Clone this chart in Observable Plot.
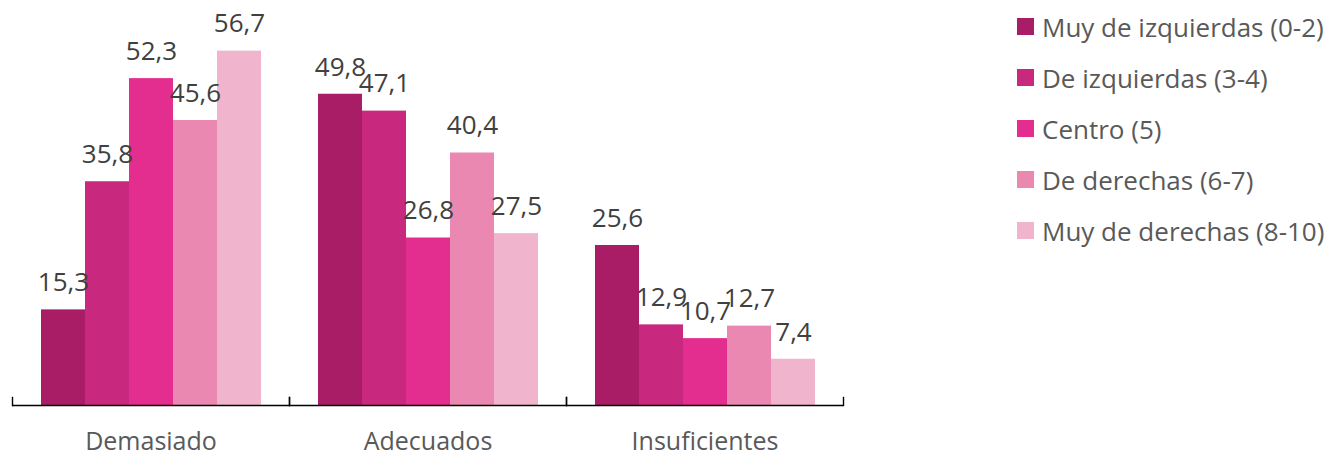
<!DOCTYPE html>
<html>
<head>
<meta charset="utf-8">
<script src="https://cdn.jsdelivr.net/npm/d3@7"></script>
<script src="https://cdn.jsdelivr.net/npm/@observablehq/plot@0.6"></script>
<style>
  html, body { margin: 0; padding: 0; background: #fff; }
  #wrap { position: relative; width: 1327px; height: 457px; font-family: "Open Sans", sans-serif; }
  #legend { position: absolute; left: 1017px; top: 1px; }
  .row { display: flex; align-items: center; height: 51px; font-size: 26px; color: #595959; white-space: nowrap; }
  .sw { width: 17px; height: 17px; margin-right: 8px; flex: none; }
</style>
</head>
<body>
<div id="wrap"><div id="legend"></div></div>
<script>
const categories = ["Demasiado", "Adecuados", "Insuficientes"];
const series = ["Muy de izquierdas (0-2)", "De izquierdas (3-4)", "Centro (5)", "De derechas (6-7)", "Muy de derechas (8-10)"];
const colors = ["#A91D66", "#C8287E", "#E32D8F", "#EA88B2", "#F0B5CC"];
const muyIzquierdas = [15.3, 49.8, 25.6];
const izquierdas = [35.8, 47.1, 12.9];
const centro = [52.3, 26.8, 10.7];
const derechas = [45.6, 40.4, 12.7];
const muyDerechas = [56.7, 27.5, 7.4];
const values = [muyIzquierdas, izquierdas, centro, derechas, muyDerechas];

const data = categories.flatMap((c, i) => series.map((s, j) => ({category: c, series: s, value: values[j][i]})));
const fmt = v => v.toFixed(1).replace(".", ",");

const chart = Plot.plot({
  width: 1327,
  height: 457,
  marginLeft: 12,
  marginRight: 484,
  marginTop: 30,
  marginBottom: 52,
  style: {fontFamily: "'Open Sans', sans-serif", background: "transparent", overflow: "visible"},
  fx: {domain: categories, padding: 0, label: null},
  x: {domain: series, paddingInner: 0, paddingOuter: 0.59, axis: null},
  y: {domain: [0, 60], axis: null},
  color: {domain: series, range: colors},
  marks: [
    Plot.barY(data, {fx: "category", x: "series", y: "value", fill: "series", inset: 0}),
    Plot.text(data, {fx: "category", x: "series", y: "value", text: d => fmt(d.value), dy: -27, fontSize: 26, fill: "#404040"}),
    Plot.ruleY([0], {stroke: "#000", strokeWidth: 1.4}),
    Plot.frame({anchor: "left", insetTop: 367, stroke: "#000", strokeWidth: 1.4}),
    Plot.frame({anchor: "right", insetTop: 367, stroke: "#000", strokeWidth: 1.4}),
    Plot.axisFx({anchor: "bottom", tickSize: 0, tickPadding: 27, fontSize: 25, fill: "#595959", label: null})
  ]
});
document.getElementById("wrap").prepend(chart);

const legend = document.getElementById("legend");
series.forEach((s, i) => {
  const row = document.createElement("div");
  row.className = "row";
  const sw = document.createElement("span");
  sw.className = "sw";
  sw.style.background = colors[i];
  const t = document.createElement("span");
  t.textContent = s;
  row.append(sw, t);
  legend.append(row);
});
</script>
</body>
</html>
